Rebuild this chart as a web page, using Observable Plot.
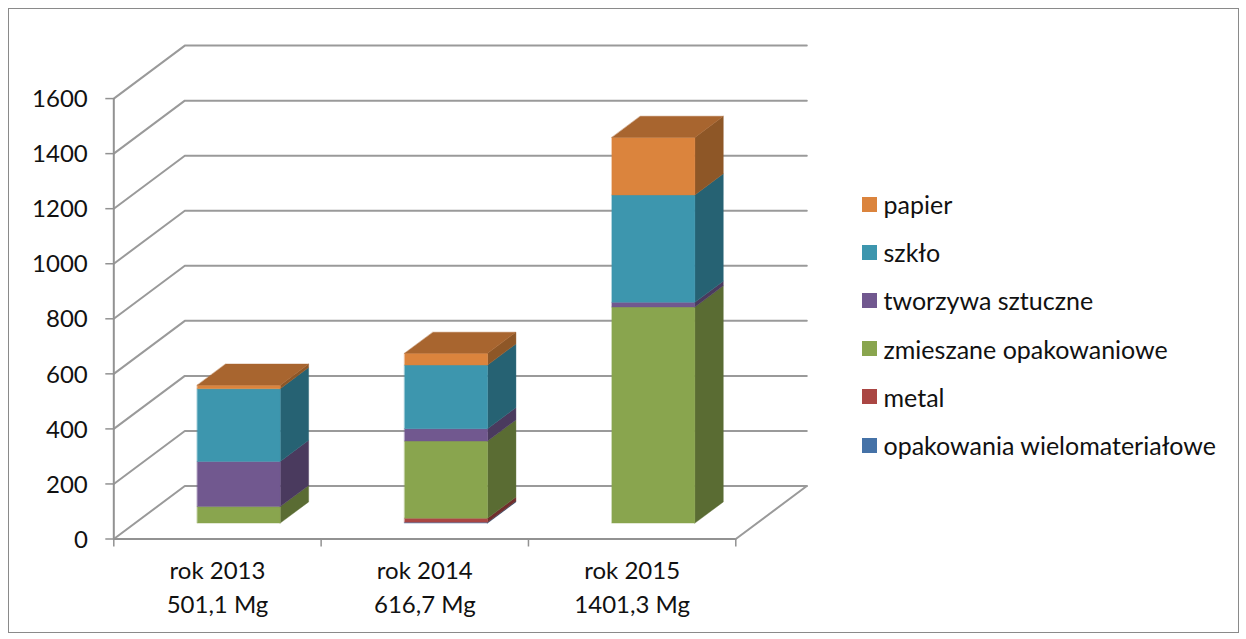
<!DOCTYPE html>
<html>
<head>
<meta charset="utf-8">
<script src="https://cdn.jsdelivr.net/npm/d3@7"></script>
<script src="https://cdn.jsdelivr.net/npm/@observablehq/plot@0.6"></script>
<style>
  html, body { margin: 0; padding: 0; background: #fff; }
  #wrap { position: relative; width: 1246px; height: 639px; overflow: hidden; }
  #frame { position: absolute; left: 8px; top: 8px; width: 1229px; height: 623px; border: 1.5px solid #8a8a8a; box-sizing: content-box; pointer-events: none; }
  #legend { position: absolute; left: 862px; top: 180px; font: 25px Lato, sans-serif; color: #111; }
  #legend div { display: flex; align-items: center; height: 48.2px; white-space: nowrap; }
  #legend i { display: block; width: 15px; height: 15px; margin-right: 6.5px; }
  svg { display: block; }
</style>
</head>
<body>
<div id="wrap"><div id="frame"></div><div id="legend"></div></div>
<script>
// --- data (Mg), stacked bottom to top ---
const categories = ["rok 2013\n501,1 Mg", "rok 2014\n616,7 Mg", "rok 2015\n1401,3 Mg"];
const series = ["opakowania wielomateriałowe", "metal", "zmieszane opakowaniowe", "tworzywa sztuczne", "szkło", "papier"];
const wielomaterialowe = [0, 3, 0];
const metal = [0, 15, 0];
const zmieszane = [60, 280, 785];
const tworzywa = [164, 45, 17];
const szklo = [264, 231, 390];
const papier = [13.1, 42.7, 209.3];
const seriesValues = [wielomaterialowe, metal, zmieszane, tworzywa, szklo, papier];

const frontColors = ["#4572A7", "#AA4643", "#89A54E", "#71588F", "#3D96AE", "#DB843D"];
const sideColors  = ["#2A4565", "#702E2C", "#5A6C33", "#4A3A5E", "#266273", "#8E5727"];
const topColors   = ["#36587F", "#82322F", "#6A7F3A", "#58446F", "#2F7486", "#A8652F"];
const yTicks = [0, 200, 400, 600, 800, 1000, 1200, 1400, 1600];

// --- oblique projection of the chart's 3D box, in data units ---
const depthX = 0.3425;   // category widths per unit of depth
const depthY = 192.5;    // Mg per unit of depth
const halfBar = 0.2, zFront = 0.3, zBack = 0.7;
const px = (x, z) => x + z * depthX;
const py = (v, z) => v + z * depthY;

const faces = [];
function addFace(id, color, pts) {
  for (const [x, z, v] of pts) faces.push({ id, color, x: px(x, z), y: py(v, z) });
}
categories.forEach((_, c) => {
  const xl = c + 0.5 - halfBar, xr = c + 0.5 + halfBar;
  let base = 0;
  const topIndex = seriesValues.reduce((m, s, i) => (s[c] > 0 ? i : m), 0);
  seriesValues.forEach((s, i) => {
    const v = s[c];
    if (v <= 0) return;
    const t = base + v;
    addFace(`s${c}-${i}`, sideColors[i], [[xr, zFront, base], [xr, zBack, base], [xr, zBack, t], [xr, zFront, t]]);
    addFace(`f${c}-${i}`, frontColors[i], [[xl, zFront, base], [xr, zFront, base], [xr, zFront, t], [xl, zFront, t]]);
    if (i === topIndex) addFace(`t${c}`, topColors[i], [[xl, zFront, t], [xr, zFront, t], [xr, zBack, t], [xl, zBack, t]]);
    base = t;
  });
});

// wall + floor gridlines
const grid = [];
yTicks.forEach(v => {
  grid.push({ id: "g" + v, x: px(0, 0), y: py(v, 0) }, { id: "g" + v, x: px(0, 1), y: py(v, 1) }, { id: "g" + v, x: px(3, 1), y: py(v, 1) });
});
grid.push({ id: "floor", x: px(3, 0), y: py(0, 0) }, { id: "floor", x: px(3, 1), y: py(0, 1) });

const gray = "#929292";
const chart = Plot.plot({
  width: 1246, height: 639,
  marginLeft: 113.3, marginRight: 439.7, marginTop: 45.1, marginBottom: 100.5,
  style: { fontFamily: "Lato, sans-serif", fontSize: "24px", color: "#111", background: "transparent" },
  x: { domain: [0, 3 + depthX] },
  y: { domain: [0, 1600 + depthY] },
  marks: [
    Plot.line(grid, { x: "x", y: "y", z: "id", stroke: "#9a9a9a", strokeWidth: 2, strokeLinejoin: "miter" }),
    Plot.ruleX([0], { y1: 0, y2: 1600, stroke: gray, strokeWidth: 2 }),
    Plot.ruleY([0], { x1: 0, x2: 3, stroke: gray, strokeWidth: 2 }),
    Plot.line(faces, { x: "x", y: "y", z: "id", fill: "color", stroke: "color", strokeWidth: 0.4, curve: "linear-closed" }),
    Plot.axisY({ ticks: yTicks, tickSize: 8, tickFormat: () => "", label: null, stroke: gray, strokeWidth: 1.5 }),
    Plot.axisY({ ticks: yTicks, tickSize: 0, tickPadding: 26, dy: 1, tickFormat: d => String(d), label: null, fill: "#111" }),
    Plot.axisX({ ticks: [0, 1, 2, 3], tickSize: 8, tickFormat: () => "", label: null, stroke: gray, strokeWidth: 1.5 }),
    Plot.axisX({ ticks: [0.5, 1.5, 2.5], tickSize: 0, tickPadding: 16, tickFormat: d => categories[d - 0.5], label: null, fill: "#111", lineHeight: 1.42, lineAnchor: "top" })
  ]
});
document.getElementById("wrap").prepend(chart);

const legend = document.getElementById("legend");
series.map((name, i) => [name, frontColors[i]]).reverse().forEach(([name, color]) => {
  const row = document.createElement("div");
  const sw = document.createElement("i");
  sw.style.background = color;
  row.append(sw, name);
  legend.append(row);
});
</script>
</body>
</html>
